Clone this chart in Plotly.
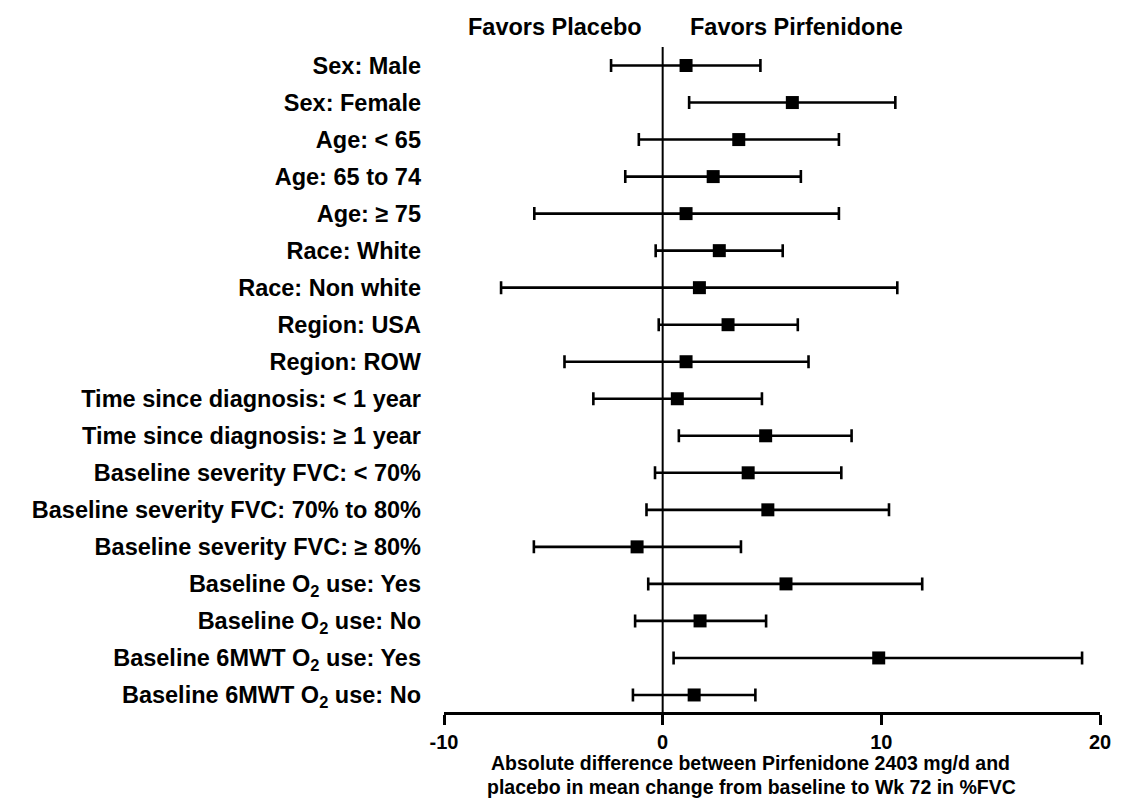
import plotly.graph_objects as go

# Subgroups, top to bottom
subgroups = [
    "Sex: Male",
    "Sex: Female",
    "Age: < 65",
    "Age: 65 to 74",
    "Age: \u2265 75",
    "Race: White",
    "Race: Non white",
    "Region: USA",
    "Region: ROW",
    "Time since diagnosis: < 1 year",
    "Time since diagnosis: \u2265 1 year",
    "Baseline severity FVC: < 70%",
    "Baseline severity FVC: 70% to 80%",
    "Baseline severity FVC: \u2265 80%",
    "Baseline O<sub>2</sub> use: Yes",
    "Baseline O<sub>2</sub> use: No",
    "Baseline 6MWT O<sub>2</sub> use: Yes",
    "Baseline 6MWT O<sub>2</sub> use: No",
]

# Absolute difference in %FVC change (point estimate and 95% CI)
estimate = [1.07, 5.93, 3.48, 2.31, 1.07, 2.59, 1.68, 2.99, 1.07, 0.67,
            4.71, 3.91, 4.81, -1.17, 5.64, 1.71, 9.88, 1.44]
ci_lower = [-2.36, 1.21, -1.09, -1.71, -5.87, -0.32, -7.39, -0.18, -4.49, -3.17,
            0.74, -0.35, -0.74, -5.89, -0.66, -1.26, 0.50, -1.36]
ci_upper = [4.47, 10.64, 8.06, 6.32, 8.06, 5.49, 10.73, 6.18, 6.67, 4.54,
            8.64, 8.17, 10.35, 3.58, 11.87, 4.73, 19.18, 4.24]

x_ticks = [-10, 0, 10, 20]

FONT = "Liberation Sans, Arial, sans-serif"

err_plus = [u - e for u, e in zip(ci_upper, estimate)]
err_minus = [e - l for e, l in zip(estimate, ci_lower)]
y_idx = list(range(len(subgroups)))

fig = go.Figure()
fig.add_trace(go.Scatter(
    x=estimate,
    y=y_idx,
    mode="markers",
    marker=dict(symbol="square", size=13, color="black"),
    error_x=dict(type="data", symmetric=False, array=err_plus,
                 arrayminus=err_minus, color="black", thickness=2.6, width=6.5),
    showlegend=False,
    hoverinfo="skip",
))

# Line of no difference
fig.add_shape(type="line", xref="x", yref="paper", x0=0, x1=0, y0=0, y1=1,
              line=dict(color="black", width=2), layer="below")

fig.update_layout(
    width=1123,
    height=798,
    margin=dict(l=444, r=18, t=47, b=86),
    paper_bgcolor="white",
    plot_bgcolor="white",
    font=dict(family=FONT, color="black"),
    xaxis=dict(
        range=[-10, 20],
        tickvals=x_ticks,
        ticktext=[str(v) for v in x_ticks],
        showgrid=False,
        zeroline=False,
        showline=True,
        linecolor="black",
        linewidth=2.5,
        ticks="outside",
        ticklen=10,
        tickwidth=2.5,
        tickcolor="black",
        tickfont=dict(family=FONT, size=20, color="black", weight="bold"),
    ),
    yaxis=dict(
        range=[17.46, -0.5],
        tickvals=y_idx,
        ticktext=subgroups,
        showgrid=False,
        zeroline=False,
        showline=False,
        ticks="",
        ticklabelstandoff=22,
        tickfont=dict(family=FONT, size=23.5, color="black", weight="bold"),
    ),
)

fig.add_annotation(text="<b>Favors Placebo</b>", xref="paper", yref="paper",
                   x=(556 - 444) / 661, y=(712 - 27) / 665, showarrow=False,
                   xanchor="center", yanchor="middle",
                   font=dict(family=FONT, size=23.5, color="black"))
fig.add_annotation(text="<b>Favors Pirfenidone</b>", xref="paper", yref="paper",
                   x=(799 - 444) / 661, y=(712 - 27) / 665, showarrow=False,
                   xanchor="center", yanchor="middle",
                   font=dict(family=FONT, size=23.5, color="black"))

fig.add_annotation(text="<b>Absolute difference between Pirfenidone 2403 mg/d and</b>",
                   xref="paper", yref="paper", x=(753 - 444) / 661,
                   y=(712 - 763) / 665, showarrow=False,
                   xanchor="center", yanchor="middle",
                   font=dict(family=FONT, size=19.5, color="black"))
fig.add_annotation(text="<b>placebo in mean change from baseline to Wk 72 in %FVC</b>",
                   xref="paper", yref="paper", x=(754 - 444) / 661,
                   y=(712 - 787) / 665, showarrow=False,
                   xanchor="center", yanchor="middle",
                   font=dict(family=FONT, size=19.5, color="black"))

fig.write_html("out.html")
